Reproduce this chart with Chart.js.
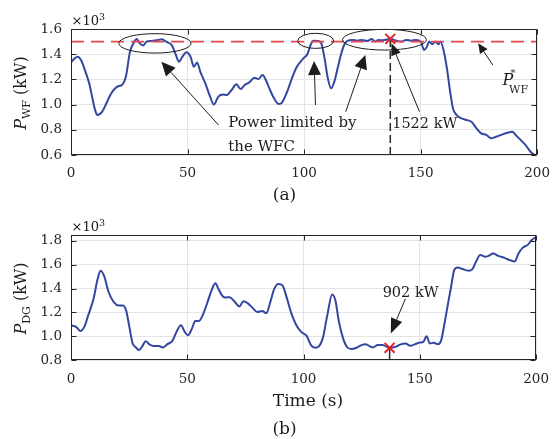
<!DOCTYPE html>
<html>
<head>
<meta charset="utf-8">
<script src="https://cdn.jsdelivr.net/npm/chart.js@4.4.1/dist/chart.umd.min.js"></script>
<style>
  html, body { margin: 0; padding: 0; background: #fff; }
  #wrap { position: relative; width: 560px; height: 439px; overflow: hidden; }
  canvas { position: absolute; left: 0; }
</style>
</head>
<body>
<div id="wrap">
  <canvas id="chartWF" width="560" height="205" style="top:0px"></canvas>
  <canvas id="chartDG" width="560" height="234" style="top:205px"></canvas>
</div>
<script>
// ---- data (power in units of 10^3 kW, time in s) ----
const xTicks = [0, 50, 100, 150, 200];
const wfTicks = [0.6, 0.8, 1.0, 1.2, 1.4, 1.6];
const dgTicks = [0.8, 1.0, 1.2, 1.4, 1.6, 1.8];

const wfTime = [0, 1.5, 2.9, 4.3, 5.7, 7.8, 9.2, 10.3, 11.3, 13.4, 15.5, 17, 18.3, 20.4, 21.8, 23.0, 23.7, 25.3, 26.8, 28.2,
  29.5, 31, 32.4, 34.5, 36.6, 39, 40.8, 43.3, 45, 46.3, 47.8, 49.5, 51.3, 52.7, 54.1, 55.5, 57.6, 59.7, 61.3, 63.2,
  65.3, 66.8, 68.9, 71, 72.8, 74.5, 76.6, 78.7, 80.4, 82.2, 83.6, 85.4, 87.1, 89.2, 90.6, 92.7, 94.8, 96.9, 99.7, 101.4,
  102.8, 103.9, 106, 107.4, 108.8, 110.2, 111.6, 113, 114.4, 115.8, 117.2, 118.6, 120.7, 122.8, 124.9, 127, 129.1, 130.5, 131.9, 133.3,
  134.7, 137, 139.6, 141.7, 143.8, 145.9, 148, 150.1, 151.5, 152.7, 153.7, 155, 156.4, 157.6, 158.5, 160, 161.3, 162.7, 163.9, 165.5,
  167.6, 169.7, 171.8, 174, 176, 178.2, 180.3, 182.4, 184.5, 186.6, 189.4, 190.8, 192.9, 195, 197, 199.2, 200];
const wfPower = [1.336, 1.365, 1.38, 1.354, 1.288, 1.169, 1.05, 0.96, 0.917, 0.944, 1.023, 1.08, 1.116, 1.148, 1.155, 1.19, 1.235, 1.42, 1.486, 1.52,
  1.486, 1.47, 1.5, 1.505, 1.51, 1.518, 1.5, 1.47, 1.394, 1.34, 1.38, 1.415, 1.38, 1.30, 1.335, 1.26, 1.17, 1.063, 1.0, 1.063,
  1.08, 1.076, 1.116, 1.161, 1.124, 1.155, 1.177, 1.214, 1.203, 1.235, 1.195, 1.116, 1.05, 1.005, 1.018, 1.10, 1.209, 1.30, 1.367, 1.40,
  1.473, 1.507, 1.505, 1.486, 1.367, 1.209, 1.129, 1.182, 1.288, 1.394, 1.473, 1.505, 1.513, 1.507, 1.513, 1.505, 1.52, 1.50, 1.513, 1.51,
  1.513, 1.522, 1.507, 1.50, 1.513, 1.507, 1.513, 1.50, 1.433, 1.46, 1.50, 1.478, 1.50, 1.478, 1.50, 1.42, 1.288, 1.10, 0.97, 0.917,
  0.89, 0.878, 0.864, 0.812, 0.772, 0.759, 0.732, 0.745, 0.759, 0.772, 0.785, 0.759, 0.72, 0.68, 0.63, 0.60, 0.60];

const dgTime = [0, 2.2, 4.1, 5.7, 7.4, 9.7, 11.3, 12.7, 14.2, 16.2, 18.4, 20.5, 22.3, 23.7, 25.1, 26.5, 27.9, 29.3, 30.7, 32.1,
  33.7, 35.4, 37.7, 39.6, 41.5, 43.6, 45.7, 47.3, 48.9, 50.3, 52, 53.4, 55, 56.9, 58.7, 60.4, 62.1, 63.4, 65.3, 66.5,
  68.2, 70.3, 72.4, 74.2, 75.9, 78, 80.1, 82.2, 84, 85.7, 87.4, 89.2, 91, 92.7, 94.8, 96.9, 99, 101.4, 103.2, 105,
  106.7, 108.4, 110.2, 112.3, 113.7, 115.1, 116.8, 118.6, 120.5, 122.8, 124.9, 126.6, 128.4, 129.8, 131.9, 134, 137, 139.6, 141.7, 143.8,
  145.9, 148, 150.1, 151.5, 152.9, 154.3, 155.8, 157.9, 159.2, 160.6, 162.1, 163.4, 164.8, 166.3, 168.4, 170.9, 172.6, 174, 176, 178.2,
  179.5, 181.6, 183.7, 186.6, 188.7, 190.8, 192.4, 194.3, 196.4, 198, 200];
const dgPower = [1.092, 1.078, 1.044, 1.078, 1.175, 1.314, 1.467, 1.55, 1.508, 1.369, 1.286, 1.258, 1.258, 1.217, 1.078, 0.939, 0.906, 0.883, 0.917, 0.958,
  0.931, 0.917, 0.917, 0.906, 0.933, 0.961, 1.05, 1.092, 1.036, 1.008, 1.064, 1.128, 1.128, 1.189, 1.286, 1.383, 1.444, 1.397, 1.333, 1.325,
  1.328, 1.292, 1.25, 1.294, 1.278, 1.239, 1.203, 1.211, 1.194, 1.286, 1.397, 1.439, 1.425, 1.328, 1.189, 1.092, 1.036, 1.0, 0.925, 0.903,
  0.917, 0.994, 1.175, 1.35, 1.30, 1.133, 0.994, 0.911, 0.892, 0.903, 0.925, 0.933, 0.917, 0.906, 0.925, 0.925, 0.902, 0.911, 0.931, 0.939,
  0.919, 0.933, 0.947, 0.953, 1.0, 0.939, 0.944, 0.933, 0.967, 1.106, 1.272, 1.411, 1.556, 1.578, 1.564, 1.55, 1.564, 1.619, 1.681, 1.667,
  1.675, 1.694, 1.675, 1.656, 1.639, 1.628, 1.694, 1.744, 1.767, 1.806, 1.833];

const wfLimit = 1.5;      // P*_WF reference
const markTime = 137;     // instant highlighted in both panels
const markWF = 1.522;
const markDG = 0.902;

// ---- styling ----
const SERIF = "'DejaVu Serif', serif";
const INK = '#1c1c1c';
const AXIS = '#262626';
const BLUE = '#3447a0';
const LIMIT_RED = '#e6474f';
const CROSS_RED = '#e8202a';

const pts = (xs, ys) => xs.map((x, i) => ({ x: x, y: ys[i] }));
const kW = v => Math.round(v * 1000) + ' kW';

function runs(ctx, x, y, parts, align) {
  // draws text made of several runs (font / vertical shift)
  let w = 0;
  parts.forEach(p => { ctx.font = p.font; p.w = ctx.measureText(p.t).width; w += p.w; });
  let cx = align === 'center' ? x - w / 2 : x;
  parts.forEach(p => { ctx.font = p.font; ctx.fillText(p.t, cx, y + (p.dy || 0)); cx += p.w; });
}

function arrow(ctx, x0, y0, x1, y1, len, hw) {
  const a = Math.atan2(y1 - y0, x1 - x0);
  const bx = x1 - len * Math.cos(a), by = y1 - len * Math.sin(a);
  ctx.beginPath(); ctx.moveTo(x0, y0); ctx.lineTo(bx, by); ctx.stroke();
  ctx.beginPath(); ctx.moveTo(x1, y1);
  ctx.lineTo(bx + hw * Math.sin(a), by - hw * Math.cos(a));
  ctx.lineTo(bx - hw * Math.sin(a), by + hw * Math.cos(a));
  ctx.closePath(); ctx.fill();
}

function frame(chart, yTickVals, yLabelRuns, panel, xTitle, panelY) {
  const ctx = chart.ctx, a = chart.chartArea;
  const xs = chart.scales.x, ys = chart.scales.y;
  const L = Math.round(a.left) + 0.5, R = Math.round(a.right) - 0.5;
  const T = Math.round(a.top) + 0.5, B = Math.round(a.bottom) - 0.5;
  ctx.save();
  ctx.strokeStyle = AXIS; ctx.lineWidth = 1;
  ctx.strokeRect(L, T, R - L, B - T);
  ctx.beginPath();
  xTicks.forEach(v => {
    const px = Math.round(xs.getPixelForValue(v)) + 0.5;
    ctx.moveTo(px, B); ctx.lineTo(px, B - 5);
    ctx.moveTo(px, T); ctx.lineTo(px, T + 5);
  });
  yTickVals.forEach(v => {
    const py = Math.round(ys.getPixelForValue(v)) + 0.5;
    ctx.moveTo(L, py); ctx.lineTo(L + 5, py);
    ctx.moveTo(R, py); ctx.lineTo(R - 5, py);
  });
  ctx.stroke();

  ctx.fillStyle = INK; ctx.textBaseline = 'alphabetic'; ctx.textAlign = 'left';
  // exponent marker
  runs(ctx, a.left + 0.5, a.top - 4, [
    { t: '\u00d710', font: '13px ' + SERIF },
    { t: '3', font: '9.5px ' + SERIF, dy: -5.5 }
  ]);
  // y-axis title, rotated
  ctx.save();
  ctx.translate(26, (a.top + a.bottom) / 2 + 1);
  ctx.rotate(-Math.PI / 2);
  runs(ctx, 0, 0, yLabelRuns, 'center');
  ctx.restore();
  // x title and panel label
  ctx.textAlign = 'left';
  if (xTitle) runs(ctx, 308, xTitle, [{ t: 'Time (s)', font: '17px ' + SERIF }], 'center');
  runs(ctx, 284.5, panelY, [{ t: panel, font: '17px ' + SERIF }], 'center');
  ctx.restore();
}

function baseOptions(yMin, yMax, yTickVals, canvasH, padTop, xPad) {
  const tickFont = { family: SERIF, size: 13.5 };
  return {
    responsive: false, animation: false, devicePixelRatio: 1,
    layout: { padding: { left: 0, right: 13, top: padTop, bottom: 0 } },
    plugins: { legend: { display: false }, tooltip: { enabled: false } },
    elements: { point: { radius: 0 } },
    scales: {
      x: {
        type: 'linear', min: 0, max: 200,
        afterBuildTicks: s => { s.ticks = xTicks.map(v => ({ value: v })); },
        afterFit: s => { s.height = canvasH - 155; },
        grid: { color: '#e4e4e4', lineWidth: 1, drawTicks: false },
        border: { display: false },
        ticks: { padding: xPad, color: AXIS, font: tickFont, maxRotation: 0, callback: v => String(v) }
      },
      y: {
        type: 'linear', min: yMin, max: yMax,
        afterBuildTicks: s => { s.ticks = yTickVals.map(v => ({ value: v })); },
        afterFit: s => { s.width = 71; },
        grid: { color: '#e4e4e4', lineWidth: 1, drawTicks: false },
        border: { display: false },
        ticks: { padding: 9, color: AXIS, font: tickFont, callback: v => Number(v).toFixed(1) }
      }
    }
  };
}

// ---- panel (a): wind farm power ----
const optWF = baseOptions(0.6, 1.6, wfTicks, 205, 29, 10);
new Chart(document.getElementById('chartWF'), {
  type: 'line',
  data: {
    datasets: [
      { data: [{ x: markTime, y: markWF }], showLine: false, pointStyle: 'crossRot', pointRadius: 7,
        borderColor: CROSS_RED, borderWidth: 2, backgroundColor: CROSS_RED },
      { data: [{ x: 0, y: wfLimit }, { x: 200, y: wfLimit }], borderColor: LIMIT_RED, borderWidth: 1.6,
        borderDash: [13, 7], pointRadius: 0 },
      { data: pts(wfTime, wfPower), borderColor: BLUE, borderWidth: 2, cubicInterpolationMode: 'monotone',
        pointRadius: 0 },
      { data: [{ x: markTime, y: 0.6 }, { x: markTime, y: markWF }], borderColor: '#2a2a2a', borderWidth: 1.5,
        borderDash: [8, 4], pointRadius: 0 }
    ]
  },
  options: optWF,
  plugins: [{
    id: 'wfNotes',
    afterDatasetsDraw(chart) {
      const ctx = chart.ctx, xs = chart.scales.x, ys = chart.scales.y;
      const X = v => xs.getPixelForValue(v), Y = v => ys.getPixelForValue(v);
      ctx.save();
      ctx.strokeStyle = INK; ctx.fillStyle = INK; ctx.lineWidth = 1;
      // regions where output is capped by the controller
      [[36, 1.486, 15.5, 0.077], [105, 1.506, 7.7, 0.06], [134.5, 1.515, 18, 0.082]].forEach(e => {
        const cx = X(e[0]), cy = Y(e[1]);
        ctx.beginPath();
        ctx.ellipse(cx, cy, X(e[0] + e[2]) - cx, cy - Y(e[1] + e[3]), 0, 0, Math.PI * 2);
        ctx.stroke();
      });
      arrow(ctx, X(63.3), Y(0.838), X(38.8), Y(1.34), 14, 6.5);
      arrow(ctx, X(104.9), Y(0.997), X(104.3), Y(1.346), 14, 6.5);
      arrow(ctx, X(117.9), Y(0.944), X(126.3), Y(1.394), 14, 6.5);
      arrow(ctx, X(149.5), Y(0.944), X(137.5), Y(1.487), 12, 5);
      arrow(ctx, X(181), Y(1.314), X(174.7), Y(1.487), 10, 4.5);
      ctx.textAlign = 'left'; ctx.textBaseline = 'alphabetic';
      const f15 = '15px ' + SERIF;
      runs(ctx, X(67.5), Y(0.825), [{ t: 'Power limited by', font: f15 }]);
      runs(ctx, X(67.5), Y(0.634), [{ t: 'the WFC', font: f15 }]);
      runs(ctx, X(137.8), Y(0.817), [{ t: kW(markWF), font: '14.5px ' + SERIF }]);
      // P*_WF
      const px = X(185.2), py = Y(1.156);
      runs(ctx, px, py, [{ t: 'P', font: 'italic 16px ' + SERIF }]);
      runs(ctx, px + 8, py - 9, [{ t: '*', font: '10px ' + SERIF }]);
      runs(ctx, px + 6.5, py + 8, [{ t: 'WF', font: '11px ' + SERIF }]);
      ctx.restore();
    },
    afterDraw(chart) {
      frame(chart, wfTicks, [
        { t: 'P', font: 'italic 16px ' + SERIF },
        { t: 'WF', font: '11px ' + SERIF, dy: 3.5 },
        { t: ' (kW)', font: '16px ' + SERIF }
      ], '(a)', null, 200);
    }
  }]
});

// ---- panel (b): diesel generator power ----
const optDG = baseOptions(0.8, 1.85, dgTicks, 234, 30, 11);
new Chart(document.getElementById('chartDG'), {
  type: 'line',
  data: {
    datasets: [
      { data: [{ x: markTime, y: markDG }], showLine: false, pointStyle: 'crossRot', pointRadius: 7,
        borderColor: CROSS_RED, borderWidth: 2, backgroundColor: CROSS_RED },
      { data: pts(dgTime, dgPower), borderColor: BLUE, borderWidth: 2, cubicInterpolationMode: 'monotone',
        pointRadius: 0 },
      { data: [{ x: markTime, y: 0.8 }, { x: markTime, y: markDG }], borderColor: '#2a2a2a', borderWidth: 1.5,
        pointRadius: 0 }
    ]
  },
  options: optDG,
  plugins: [{
    id: 'dgNotes',
    afterDatasetsDraw(chart) {
      const ctx = chart.ctx, xs = chart.scales.x, ys = chart.scales.y;
      const X = v => xs.getPixelForValue(v), Y = v => ys.getPixelForValue(v);
      ctx.save();
      ctx.strokeStyle = INK; ctx.fillStyle = INK; ctx.lineWidth = 1;
      arrow(ctx, X(143.8), Y(1.314), X(137.5), Y(1.0225), 15, 6);
      ctx.textAlign = 'left'; ctx.textBaseline = 'alphabetic';
      runs(ctx, X(134), Y(1.333), [{ t: kW(markDG), font: '14.5px ' + SERIF }]);
      ctx.restore();
    },
    afterDraw(chart) {
      frame(chart, dgTicks, [
        { t: 'P', font: 'italic 16px ' + SERIF },
        { t: 'DG', font: '11px ' + SERIF, dy: 3.5 },
        { t: ' (kW)', font: '16px ' + SERIF }
      ], '(b)', 200.5, 229);
    }
  }]
});
</script>
</body>
</html>
